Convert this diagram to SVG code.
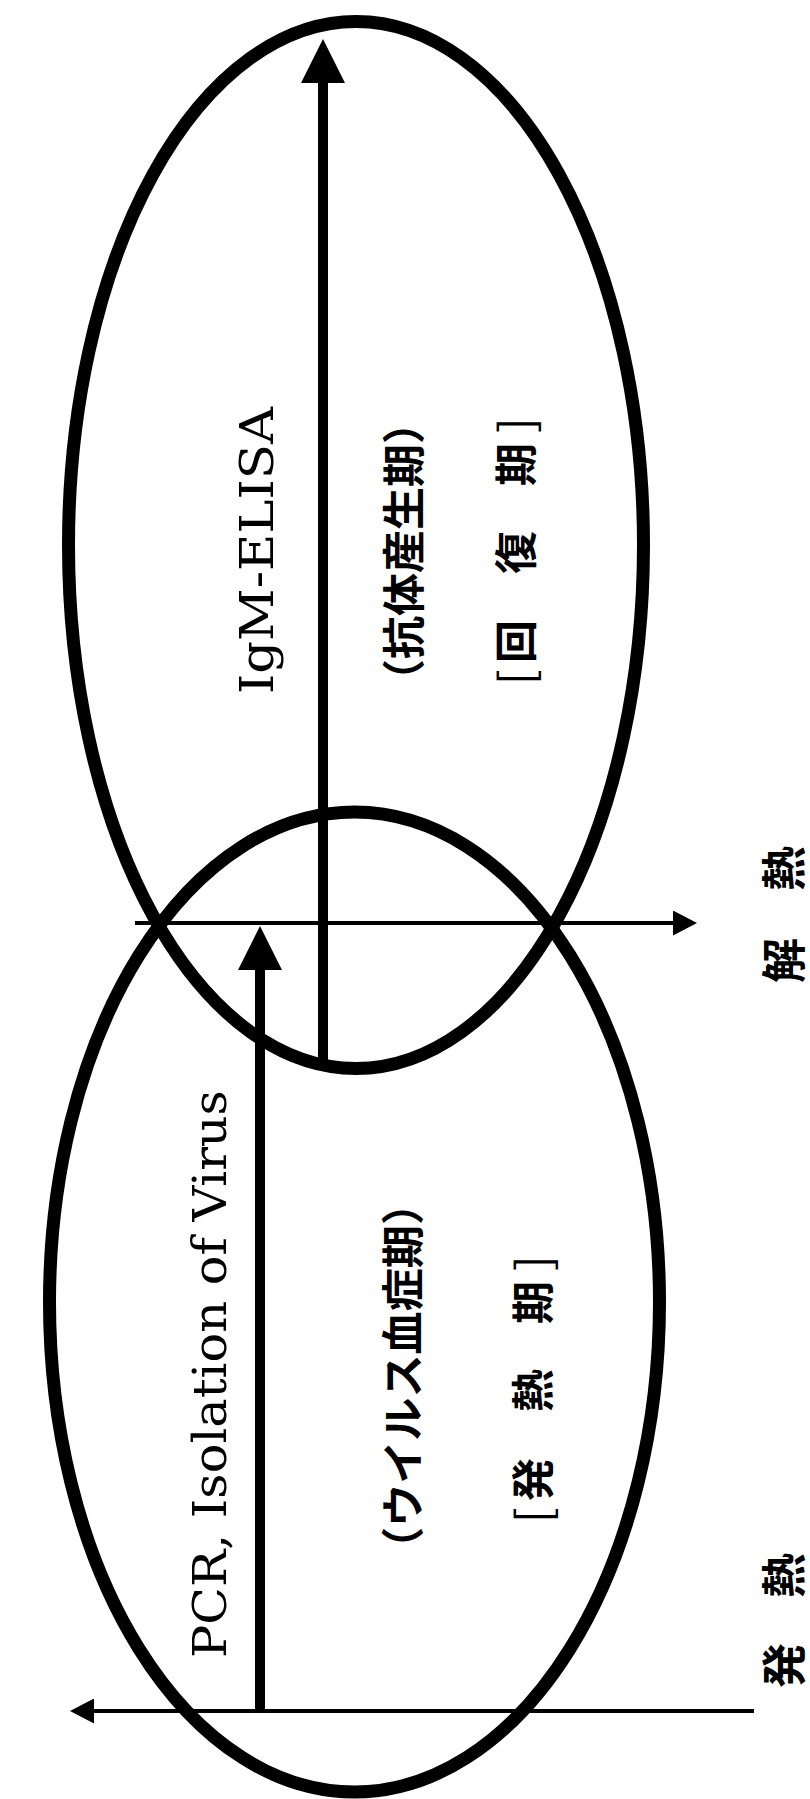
<svg xmlns="http://www.w3.org/2000/svg" width="810" height="1799" viewBox="0 0 810 1799">
<style>
.ell{fill:none;stroke:#000;stroke-width:13}
.shaft{stroke:#000;stroke-width:10;fill:none}
.axis{stroke:#000;stroke-width:4;fill:none}
.lat{font-family:"DejaVu Serif","Liberation Serif",serif;font-size:47px;fill:#000}
.jp{font-family:"Noto Sans CJK JP",sans-serif;font-size:43px;font-weight:700;fill:#000;dominant-baseline:central}
.br{font-weight:400;font-size:46px}
.lbl{font-family:"Noto Sans CJK JP",sans-serif;font-size:45px;font-weight:700;fill:#000;dominant-baseline:central}
</style>
<defs>
<marker id="thin" markerUnits="userSpaceOnUse" markerWidth="24" markerHeight="25" refX="7" refY="12.5" orient="auto" viewBox="0 0 24 25"><path d="M0,0 L24,12.5 L0,25 z" fill="#000"/></marker>
<marker id="thick" markerUnits="userSpaceOnUse" markerWidth="44" markerHeight="44" refX="4" refY="22" orient="auto" viewBox="0 0 44 44"><path d="M0,0 L44,22 L0,44 z" fill="#000"/></marker>
</defs>
<rect width="810" height="1799" fill="#fff"/>
<g id="recovery-phase">
<ellipse class="ell" cx="356" cy="545" rx="287.5" ry="523.5"/>
<text class="lat" transform="translate(273 694) rotate(-90)" textLength="287" lengthAdjust="spacingAndGlyphs">IgM-ELISA</text>
<text class="jp" transform="translate(401 702) rotate(-90)" textLength="301" lengthAdjust="spacingAndGlyphs">（抗体産生期）</text>
<text class="jp" transform="translate(513 685) rotate(-90)"><tspan class="br" x="0">[</tspan><tspan x="22">回</tspan><tspan x="111">復</tspan><tspan x="199">期</tspan><tspan class="br" x="252">]</tspan></text>
</g>
<g id="fever-phase">
<ellipse class="ell" cx="354.5" cy="1302" rx="305" ry="490"/>
<text class="lat" transform="translate(226 1658) rotate(-90)" textLength="568" lengthAdjust="spacingAndGlyphs">PCR, Isolation of Virus</text>
<text class="jp" transform="translate(400 1570) rotate(-90)" textLength="388" lengthAdjust="spacingAndGlyphs">（ウイルス血症期）</text>
<text class="jp" transform="translate(530 1523) rotate(-90)"><tspan class="br" x="0">[</tspan><tspan x="22">発</tspan><tspan x="111">熱</tspan><tspan x="199">期</tspan><tspan class="br" x="252">]</tspan></text>
</g>
<g id="label-defervescence">
<text class="lbl" transform="translate(781 983) rotate(-90)"><tspan x="0">解</tspan><tspan x="92">熱</tspan></text>
</g>
<g id="label-onset">
<text class="lbl" transform="translate(781 1688) rotate(-90)"><tspan x="0">発</tspan><tspan x="90">熱</tspan></text>
</g>
<g id="connectors">
<line class="axis" x1="135" y1="923" x2="680" y2="923" marker-end="url(#thin)"/>
<line class="axis" x1="754" y1="1711" x2="87" y2="1711" marker-end="url(#thin)"/>
<line class="shaft" x1="260" y1="1711" x2="260" y2="966" marker-end="url(#thick)"/>
<line class="shaft" x1="323" y1="1062" x2="323" y2="79" marker-end="url(#thick)"/>
</g>
</svg>
